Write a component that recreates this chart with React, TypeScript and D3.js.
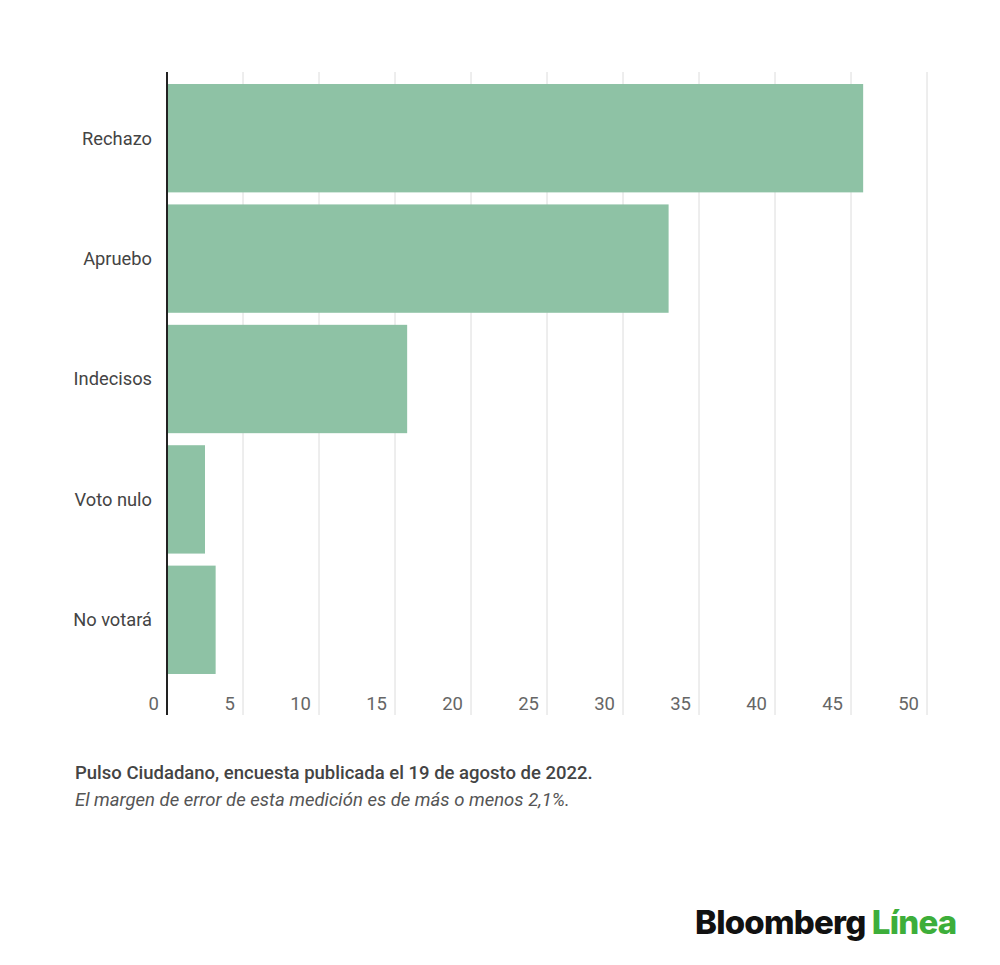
import { useEffect, useRef } from "react"
import * as d3 from "d3"

const categories = ["Rechazo", "Apruebo", "Indecisos", "Voto nulo", "No votará"]
const values = [45.8, 33, 15.8, 2.5, 3.2]
const ticks = [0, 5, 10, 15, 20, 25, 30, 35, 40, 45, 50]

const BarChart = () => {
  const ref = useRef<SVGSVGElement>(null)

  useEffect(() => {
    const svg = d3.select(ref.current)
    svg.selectAll("*").remove()

    const x = d3.scaleLinear().domain([0, 50]).range([167, 927])
    const y = d3
      .scaleBand<string>()
      .domain(categories)
      .range([78, 680])
      .paddingInner(0.1)
      .paddingOuter(0.05)

    const font = "Roboto, 'Noto Sans', sans-serif"

    // gridlines
    svg
      .append("g")
      .selectAll("line")
      .data(ticks.slice(1))
      .join("line")
      .attr("x1", (d) => x(d))
      .attr("x2", (d) => x(d))
      .attr("y1", 72)
      .attr("y2", 715)
      .attr("stroke", "#dcdcdc")
      .attr("stroke-width", 1)

    // bars
    svg
      .append("g")
      .selectAll("rect")
      .data(categories)
      .join("rect")
      .attr("x", x(0))
      .attr("y", (d) => y(d) as number)
      .attr("width", (_, i) => x(values[i]) - x(0))
      .attr("height", y.bandwidth())
      .attr("fill", "#8ec2a5")

    // zero axis
    svg
      .append("line")
      .attr("x1", x(0))
      .attr("x2", x(0))
      .attr("y1", 72)
      .attr("y2", 715)
      .attr("stroke", "#222")
      .attr("stroke-width", 2)

    // category labels
    svg
      .append("g")
      .selectAll("text")
      .data(categories)
      .join("text")
      .attr("x", 152)
      .attr("y", (d) => (y(d) as number) + y.bandwidth() / 2)
      .attr("dy", "0.35em")
      .attr("text-anchor", "end")
      .attr("font-family", font)
      .attr("font-size", 18.3)
      .attr("fill", "#444")
      .text((d) => d)

    // tick labels
    svg
      .append("g")
      .selectAll("text")
      .data(ticks)
      .join("text")
      .attr("x", (d) => x(d) - 8)
      .attr("y", 710)
      .attr("text-anchor", "end")
      .attr("font-family", font)
      .attr("font-size", 18.5)
      .attr("fill", "#666")
      .text((d) => d)

    // footer
    svg
      .append("text")
      .attr("x", 75)
      .attr("y", 779)
      .attr("font-family", font)
      .attr("font-size", 18.5)
      .attr("font-weight", 500)
      .attr("fill", "#444")
      .text("Pulso Ciudadano, encuesta publicada el 19 de agosto de 2022.")

    svg
      .append("text")
      .attr("x", 75)
      .attr("y", 806)
      .attr("font-family", font)
      .attr("font-size", 18.5)
      .attr("font-style", "italic")
      .attr("fill", "#555")
      .text("El margen de error de esta medición es de más o menos 2,1%.")

    // logo
    const logo = svg
      .append("text")
      .attr("x", 695)
      .attr("y", 934)
      .attr("font-family", "Inter, 'Liberation Sans', sans-serif")
      .attr("font-size", 33)
      .attr("font-weight", 800)
      .attr("letter-spacing", -0.8)
    logo.append("tspan").attr("fill", "#111").text("Bloomberg ")
    logo.append("tspan").attr("fill", "#3dae3a").text("Línea")
  }, [])

  return (
    <svg
      ref={ref}
      width={1000}
      height={965}
      style={{ position: "absolute", left: 0, top: 0, background: "#fff" }}
    />
  )
}

export default function App() {
  return <BarChart />
}
